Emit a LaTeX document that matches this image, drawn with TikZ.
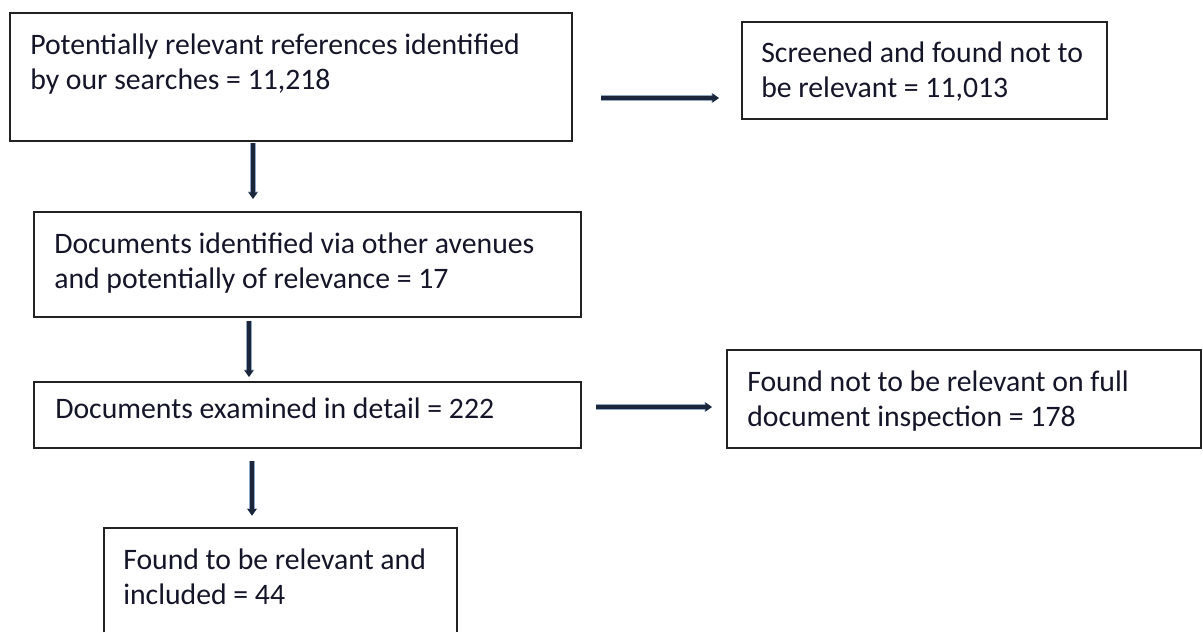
\documentclass[tikz,border=0pt]{standalone}
\usepackage{fontspec}
\setmainfont{Carlito}
\usetikzlibrary{arrows.meta,fit}
\definecolor{arrowcol}{HTML}{1B263B}
\definecolor{halo}{HTML}{8FA8C8}
\definecolor{boxcol}{HTML}{222222}
\definecolor{txtcol}{HTML}{15152A}
\tikzset{
  x=0.75pt, y=-0.75pt,
  boxnode/.style={fit={#1}, inner sep=0pt, draw=boxcol, line width=1.5pt},
  openbox/.style={fit={#1}, inner sep=0pt},
  boxline/.style={draw=boxcol, line width=1.5pt},
  txt/.style={anchor=base west, inner sep=0pt, align=left, text=txtcol,
    font=\fontsize{22.3}{26.25}\selectfont},
  arr/.style={draw=arrowcol, line width=3pt,
    preaction={draw=halo, line width=4pt, -{Triangle[length=5.5pt,width=7.5pt]}},
    -{Triangle[length=5pt,width=6.5pt]}}
}
\begin{document}
\begin{tikzpicture}
\useasboundingbox[fill=white] (0,0) rectangle (1203,632);
% boxes
\node[boxnode={(10,13)(572,141)}] (b1) {};
\node[boxnode={(742,22)(1107,119)}] (b2) {};
\node[boxnode={(34,212)(581,317)}] (b3) {};
\node[boxnode={(34,382)(581,448)}] (b4) {};
\node[boxnode={(727,350)(1201,448)}] (b5) {};
\node[openbox={(104,528)(457,632)}] (b6) {};
\draw[boxline] (b6.south west) -- (b6.north west) -- (b6.north east) -- (b6.south east);
% texts (anchor = baseline of last line)
\node[txt] (t1) at (30,89) {Potentially relevant references identified\\by our searches = 11,218};
\node[txt] (t2) at (761,97) {Screened and found not to\\be relevant = 11,013};
\node[txt] (t3) at (54,288) {Documents identified via other avenues\\and potentially of relevance = 17};
\node[txt] (t4) at (55,418) {Documents examined in detail = 222};
\node[txt] (t5) at (747,426) {Found not to be relevant on full\\document inspection = 178};
\node[txt] (t6) at (123,604) {Found to be relevant and\\included = 44};
% connector guides
\coordinate (y1) at (0,98);
\coordinate (x2) at (253,0);
\coordinate (x3) at (249,0);
\coordinate (y4) at (0,407);
\coordinate (x5) at (252,0);
% connectors
\draw[arr, shorten <=21pt, shorten >=16.5pt] (b1.east |- y1) -- (b2.west |- y1);
\draw[arr, shorten <=1pt, shorten >=9pt] (b1.south -| x2) -- (b3.north -| x2);
\draw[arr, shorten <=2pt, shorten >=3pt] (b3.south -| x3) -- (b4.north -| x3);
\draw[arr, shorten <=10.5pt, shorten >=10.5pt] (b4.east |- y4) -- (b5.west |- y4);
\draw[arr, shorten <=9pt, shorten >=9pt] (b4.south -| x5) -- (b6.north -| x5);
\end{tikzpicture}
\end{document}
